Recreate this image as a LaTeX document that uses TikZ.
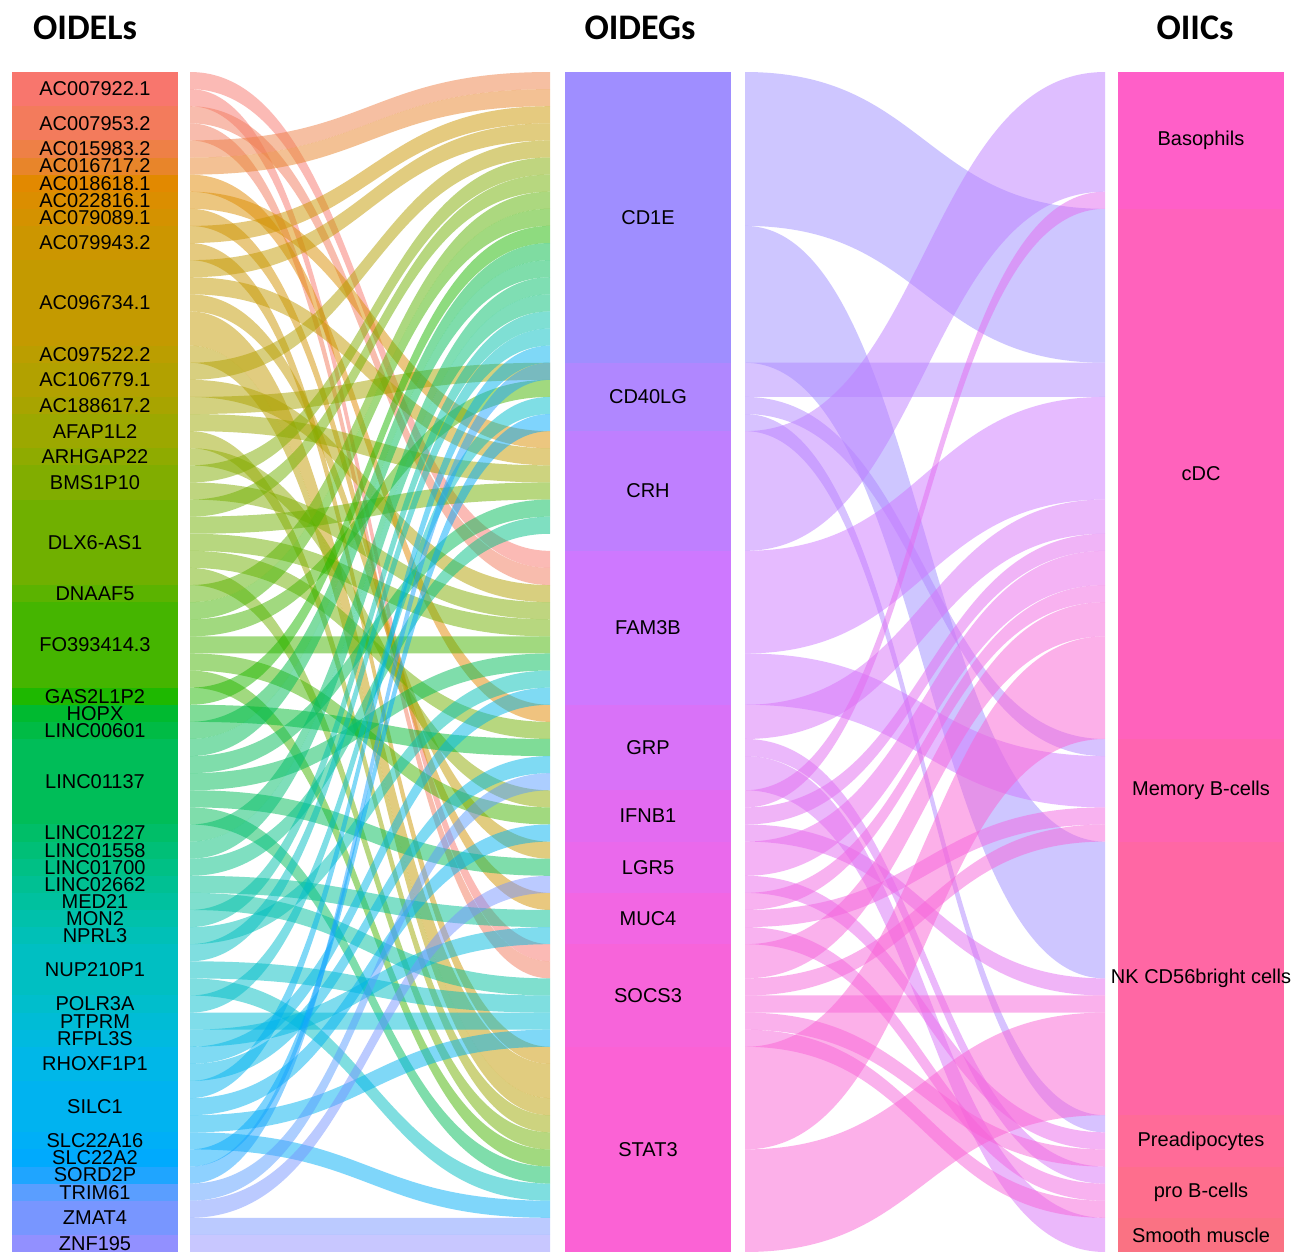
\documentclass[tikz,border=0pt]{standalone}
\usepackage{fontspec}
\setmainfont{Liberation Sans}
\newfontfamily\headfont{Carlito}

% one alluvium unit in px, slot bookkeeping
\def\unitpx{17.1014}
\newcount\slotcount
\newcommand{\setslot}[2]{\expandafter\xdef\csname slot@#1\endcsname{#2}}
\newcommand{\getslot}[1]{\csname slot@#1\endcsname}

% ribbon: x1, y1, x2, y2, height, colour
\newcommand{\drawribbon}[6]{%
  \pgfmathsetmacro\xm{(#1+#3)/2}%
  \fill[#6, fill opacity=0.5] (#1,#2) .. controls (\xm,#2) and (\xm,#4) .. (#3,#4)
    -- (#3,{#4+#5}) .. controls (\xm,{#4+#5}) and (\xm,{#2+#5}) .. (#1,{#2+#5}) -- cycle;}

% flow lncRNA -> gene: colour, gene, units
\newcommand{\lflow}[3]{%
  \pgfmathsetmacro\ya{72+\the\slotcount*\unitpx}%
  \pgfmathsetmacro\yb{72+\getslot{#2}*\unitpx}%
  \pgfmathsetmacro\hh{#3*\unitpx}%
  \drawribbon{190}{\ya}{550}{\yb}{\hh}{#1}%
  \global\advance\slotcount by #3\relax
  \pgfmathtruncatemacro\nxt{\getslot{#2}+#3}%
  \setslot{#2}{\nxt}}

% flow gene -> cell: colour, cell, units
\newcommand{\rflow}[3]{%
  \pgfmathsetmacro\ya{72+\the\slotcount*\unitpx}%
  \pgfmathsetmacro\yb{72+\getslot{#2}*\unitpx}%
  \pgfmathsetmacro\hh{#3*\unitpx}%
  \drawribbon{745}{\ya}{1105}{\yb}{\hh}{#1}%
  \global\advance\slotcount by #3\relax
  \pgfmathtruncatemacro\nxt{\getslot{#2}+#3}%
  \setslot{#2}{\nxt}}

% stratum: node name, x left, first unit, units, colour, label
\newcommand{\drawstratum}[6]{%
  \pgfmathsetmacro\ya{72+#3*\unitpx}%
  \pgfmathsetmacro\yb{72+(#3+#4)*\unitpx}%
  \fill[#5] (#2,\ya) rectangle ({#2+166},\yb);
  \node[lab] (#1) at ({#2+83},{(\ya+\yb)/2}) {#6};}

\tikzset{
  lab/.style={font=\fontsize{20}{20}\selectfont, inner sep=0pt},
  head/.style={font=\headfont\bfseries\fontsize{36}{36}\selectfont, inner sep=0pt}
}

\begin{document}
\begin{tikzpicture}[x=1pt, y=-1pt]
  \fill[white] (0,0) rectangle (1295,1251);
  \useasboundingbox (0,0) rectangle (1295,1251);
  \clip (0,0) rectangle (1295,1251);

  % Changing colours of the lncRNA strata
  \definecolor{l0}{HTML}{F8766D}\definecolor{l1}{HTML}{F37B5C}\definecolor{l2}{HTML}{EE8046}%
  \definecolor{l3}{HTML}{E8852A}\definecolor{l4}{HTML}{E28900}\definecolor{l5}{HTML}{DB8E00}%
  \definecolor{l6}{HTML}{D49200}\definecolor{l7}{HTML}{CC9600}\definecolor{l8}{HTML}{C49A00}%
  \definecolor{l9}{HTML}{BB9E00}\definecolor{l10}{HTML}{B2A100}\definecolor{l11}{HTML}{A8A400}%
  \definecolor{l12}{HTML}{9CA800}\definecolor{l13}{HTML}{8FAB00}\definecolor{l14}{HTML}{81AD00}%
  \definecolor{l15}{HTML}{70B000}\definecolor{l16}{HTML}{5BB300}\definecolor{l17}{HTML}{45B500}%
  \definecolor{l18}{HTML}{1EB800}\definecolor{l19}{HTML}{00BA30}\definecolor{l20}{HTML}{00BB45}%
  \definecolor{l21}{HTML}{00BD58}\definecolor{l22}{HTML}{00BE68}\definecolor{l23}{HTML}{00BF77}%
  \definecolor{l24}{HTML}{00C085}\definecolor{l25}{HTML}{00C093}\definecolor{l26}{HTML}{00C19F}%
  \definecolor{l27}{HTML}{00C1AB}\definecolor{l28}{HTML}{00C0B7}\definecolor{l29}{HTML}{00BFC2}%
  \definecolor{l30}{HTML}{00BECC}\definecolor{l31}{HTML}{00BCD6}\definecolor{l32}{HTML}{00BADF}%
  \definecolor{l33}{HTML}{00B7E8}\definecolor{l34}{HTML}{00B3F0}\definecolor{l35}{HTML}{00AFF7}%
  \definecolor{l36}{HTML}{00AAFD}\definecolor{l37}{HTML}{1FA5FF}\definecolor{l38}{HTML}{5A9EFF}%
  \definecolor{l39}{HTML}{7896FF}\definecolor{l40}{HTML}{9290FF}%

  % Changing colours of the gene strata
  \definecolor{gCD1E}{HTML}{9F8EFF}\definecolor{gCD40LG}{HTML}{B087FF}%
  \definecolor{gCRH}{HTML}{BF7FFF}\definecolor{gFAM3B}{HTML}{CE78FF}%
  \definecolor{gGRP}{HTML}{D972F8}\definecolor{gIFNB1}{HTML}{E36BF1}%
  \definecolor{gLGR5}{HTML}{EA69EC}\definecolor{gMUC4}{HTML}{F266E3}%
  \definecolor{gSOCS3}{HTML}{F764DA}\definecolor{gSTAT3}{HTML}{FB62D5}%

  % Changing colours of the cell strata
  \definecolor{cBaso}{HTML}{FF5FC8}\definecolor{ccDC}{HTML}{FF62BC}%
  \definecolor{cMem}{HTML}{FF64B0}\definecolor{cNK}{HTML}{FF67A4}%
  \definecolor{cPre}{HTML}{FF6B98}\definecolor{cPro}{HTML}{FE6E8D}%
  \definecolor{cSmo}{HTML}{FA7283}%

  % Drawing column titles
  \node[head] (tL) at (85,28) {OIDELs};
  \node[head] (tM) at (640,28) {OIDEGs};
  \node[head] (tR) at (1195,28) {OIICs};

  % Drawing lncRNA strata
  \drawstratum{sL0}{12}{0}{2}{l0}{AC007922.1}
  \drawstratum{sL1}{12}{2}{2}{l1}{AC007953.2}
  \drawstratum{sL2}{12}{4}{1}{l2}{AC015983.2}
  \drawstratum{sL3}{12}{5}{1}{l3}{AC016717.2}
  \drawstratum{sL4}{12}{6}{1}{l4}{AC018618.1}
  \drawstratum{sL5}{12}{7}{1}{l5}{AC022816.1}
  \drawstratum{sL6}{12}{8}{1}{l6}{AC079089.1}
  \drawstratum{sL7}{12}{9}{2}{l7}{AC079943.2}
  \drawstratum{sL8}{12}{11}{5}{l8}{AC096734.1}
  \drawstratum{sL9}{12}{16}{1}{l9}{AC097522.2}
  \drawstratum{sL10}{12}{17}{2}{l10}{AC106779.1}
  \drawstratum{sL11}{12}{19}{1}{l11}{AC188617.2}
  \drawstratum{sL12}{12}{20}{2}{l12}{AFAP1L2}
  \drawstratum{sL13}{12}{22}{1}{l13}{ARHGAP22}
  \drawstratum{sL14}{12}{23}{2}{l14}{BMS1P10}
  \drawstratum{sL15}{12}{25}{5}{l15}{DLX6-AS1}
  \drawstratum{sL16}{12}{30}{1}{l16}{DNAAF5}
  \drawstratum{sL17}{12}{31}{5}{l17}{FO393414.3}
  \drawstratum{sL18}{12}{36}{1}{l18}{GAS2L1P2}
  \drawstratum{sL19}{12}{37}{1}{l19}{HOPX}
  \drawstratum{sL20}{12}{38}{1}{l20}{LINC00601}
  \drawstratum{sL21}{12}{39}{5}{l21}{LINC01137}
  \drawstratum{sL22}{12}{44}{1}{l22}{LINC01227}
  \drawstratum{sL23}{12}{45}{1}{l23}{LINC01558}
  \drawstratum{sL24}{12}{46}{1}{l24}{LINC01700}
  \drawstratum{sL25}{12}{47}{1}{l25}{LINC02662}
  \drawstratum{sL26}{12}{48}{1}{l26}{MED21}
  \drawstratum{sL27}{12}{49}{1}{l27}{MON2}
  \drawstratum{sL28}{12}{50}{1}{l28}{NPRL3}
  \drawstratum{sL29}{12}{51}{3}{l29}{NUP210P1}
  \drawstratum{sL30}{12}{54}{1}{l30}{POLR3A}
  \drawstratum{sL31}{12}{55}{1}{l31}{PTPRM}
  \drawstratum{sL32}{12}{56}{1}{l32}{RFPL3S}
  \drawstratum{sL33}{12}{57}{2}{l33}{RHOXF1P1}
  \drawstratum{sL34}{12}{59}{3}{l34}{SILC1}
  \drawstratum{sL35}{12}{62}{1}{l35}{SLC22A16}
  \drawstratum{sL36}{12}{63}{1}{l36}{SLC22A2}
  \drawstratum{sL37}{12}{64}{1}{l37}{SORD2P}
  \drawstratum{sL38}{12}{65}{1}{l38}{TRIM61}
  \drawstratum{sL39}{12}{66}{2}{l39}{ZMAT4}
  \drawstratum{sL40}{12}{68}{1}{l40}{ZNF195}

  % Drawing gene strata
  \drawstratum{sCD1E}{565}{0}{17}{gCD1E}{CD1E}
  \drawstratum{sCD40LG}{565}{17}{4}{gCD40LG}{CD40LG}
  \drawstratum{sCRH}{565}{21}{7}{gCRH}{CRH}
  \drawstratum{sFAM3B}{565}{28}{9}{gFAM3B}{FAM3B}
  \drawstratum{sGRP}{565}{37}{5}{gGRP}{GRP}
  \drawstratum{sIFNB1}{565}{42}{3}{gIFNB1}{IFNB1}
  \drawstratum{sLGR5}{565}{45}{3}{gLGR5}{LGR5}
  \drawstratum{sMUC4}{565}{48}{3}{gMUC4}{MUC4}
  \drawstratum{sSOCS3}{565}{51}{6}{gSOCS3}{SOCS3}
  \drawstratum{sSTAT3}{565}{57}{12}{gSTAT3}{STAT3}

  % Drawing cell strata
  \drawstratum{sBaso}{1118}{0}{8}{cBaso}{Basophils}
  \drawstratum{scDC}{1118}{8}{31}{ccDC}{cDC}
  \drawstratum{sMem}{1118}{39}{6}{cMem}{Memory B-cells}
  \drawstratum{sNK}{1118}{45}{16}{cNK}{NK CD56bright cells}
  \drawstratum{sPre}{1118}{61}{3}{cPre}{Preadipocytes}
  \drawstratum{sPro}{1118}{64}{3}{cPro}{pro B-cells}
  \drawstratum{sSmo}{1118}{67}{2}{cSmo}{Smooth muscle}

  % Drawing flows lncRNA -> gene
  \setslot{CD1E}{0}\setslot{CD40LG}{17}\setslot{CRH}{21}\setslot{FAM3B}{28}\setslot{GRP}{37}%
  \setslot{IFNB1}{42}\setslot{LGR5}{45}\setslot{MUC4}{48}\setslot{SOCS3}{51}\setslot{STAT3}{57}%
  \global\slotcount=0
  \lflow{l0}{FAM3B}{1}\lflow{l0}{SOCS3}{1}
  \lflow{l1}{FAM3B}{1}\lflow{l1}{SOCS3}{1}
  \lflow{l2}{CD1E}{1}
  \lflow{l3}{CD1E}{1}
  \lflow{l4}{GRP}{1}
  \lflow{l5}{CRH}{1}
  \lflow{l6}{MUC4}{1}
  \lflow{l7}{CD1E}{1}\lflow{l7}{STAT3}{1}
  \lflow{l8}{CD1E}{1}\lflow{l8}{CRH}{1}\lflow{l8}{LGR5}{1}\lflow{l8}{STAT3}{2}
  \lflow{l9}{STAT3}{1}
  \lflow{l10}{CD1E}{1}\lflow{l10}{FAM3B}{1}
  \lflow{l11}{CD40LG}{1}
  \lflow{l12}{CRH}{1}\lflow{l12}{STAT3}{1}
  \lflow{l13}{IFNB1}{1}
  \lflow{l14}{CD1E}{1}\lflow{l14}{FAM3B}{1}
  \lflow{l15}{CD1E}{1}\lflow{l15}{CRH}{1}\lflow{l15}{FAM3B}{1}\lflow{l15}{GRP}{1}\lflow{l15}{STAT3}{1}
  \lflow{l16}{CD1E}{1}
  \lflow{l17}{CD1E}{1}\lflow{l17}{CD40LG}{1}\lflow{l17}{FAM3B}{1}\lflow{l17}{IFNB1}{1}\lflow{l17}{STAT3}{1}
  \lflow{l18}{CD1E}{1}
  \lflow{l19}{GRP}{1}
  \lflow{l20}{CD1E}{1}
  \lflow{l21}{CD1E}{1}\lflow{l21}{CRH}{1}\lflow{l21}{FAM3B}{1}\lflow{l21}{LGR5}{1}\lflow{l21}{STAT3}{1}
  \lflow{l22}{CD1E}{1}
  \lflow{l23}{CD1E}{1}
  \lflow{l24}{CRH}{1}
  \lflow{l25}{MUC4}{1}
  \lflow{l26}{SOCS3}{1}
  \lflow{l27}{CD1E}{1}
  \lflow{l28}{FAM3B}{1}
  \lflow{l29}{CD1E}{1}\lflow{l29}{SOCS3}{1}\lflow{l29}{STAT3}{1}
  \lflow{l30}{CD40LG}{1}
  \lflow{l31}{SOCS3}{1}
  \lflow{l32}{MUC4}{1}
  \lflow{l33}{FAM3B}{1}\lflow{l33}{GRP}{1}
  \lflow{l34}{CD1E}{1}\lflow{l34}{IFNB1}{1}\lflow{l34}{SOCS3}{1}
  \lflow{l35}{STAT3}{1}
  \lflow{l36}{CD40LG}{1}
  \lflow{l37}{CD1E}{1}
  \lflow{l38}{GRP}{1}
  \lflow{l39}{LGR5}{1}\lflow{l39}{STAT3}{1}
  \lflow{l40}{STAT3}{1}

  % Drawing flows gene -> cell
  \setslot{Baso}{0}\setslot{cDC}{8}\setslot{Mem}{39}\setslot{NK}{45}%
  \setslot{Pre}{61}\setslot{Pro}{64}\setslot{Smo}{67}%
  \global\slotcount=0
  \rflow{gCD1E}{cDC}{9}\rflow{gCD1E}{NK}{8}
  \rflow{gCD40LG}{cDC}{2}\rflow{gCD40LG}{Mem}{1}\rflow{gCD40LG}{Pre}{1}
  \rflow{gCRH}{Baso}{7}
  \rflow{gFAM3B}{cDC}{6}\rflow{gFAM3B}{Mem}{3}
  \rflow{gGRP}{cDC}{2}\rflow{gGRP}{Pro}{1}\rflow{gGRP}{Smo}{2}
  \rflow{gIFNB1}{Baso}{1}\rflow{gIFNB1}{cDC}{1}\rflow{gIFNB1}{NK}{1}
  \rflow{gLGR5}{cDC}{2}\rflow{gLGR5}{Pre}{1}
  \rflow{gMUC4}{cDC}{1}\rflow{gMUC4}{Mem}{1}\rflow{gMUC4}{Pro}{1}
  \rflow{gSOCS3}{cDC}{2}\rflow{gSOCS3}{Mem}{1}\rflow{gSOCS3}{NK}{1}\rflow{gSOCS3}{Pre}{1}\rflow{gSOCS3}{Pro}{1}
  \rflow{gSTAT3}{cDC}{6}\rflow{gSTAT3}{NK}{6}
\end{tikzpicture}
\end{document}
